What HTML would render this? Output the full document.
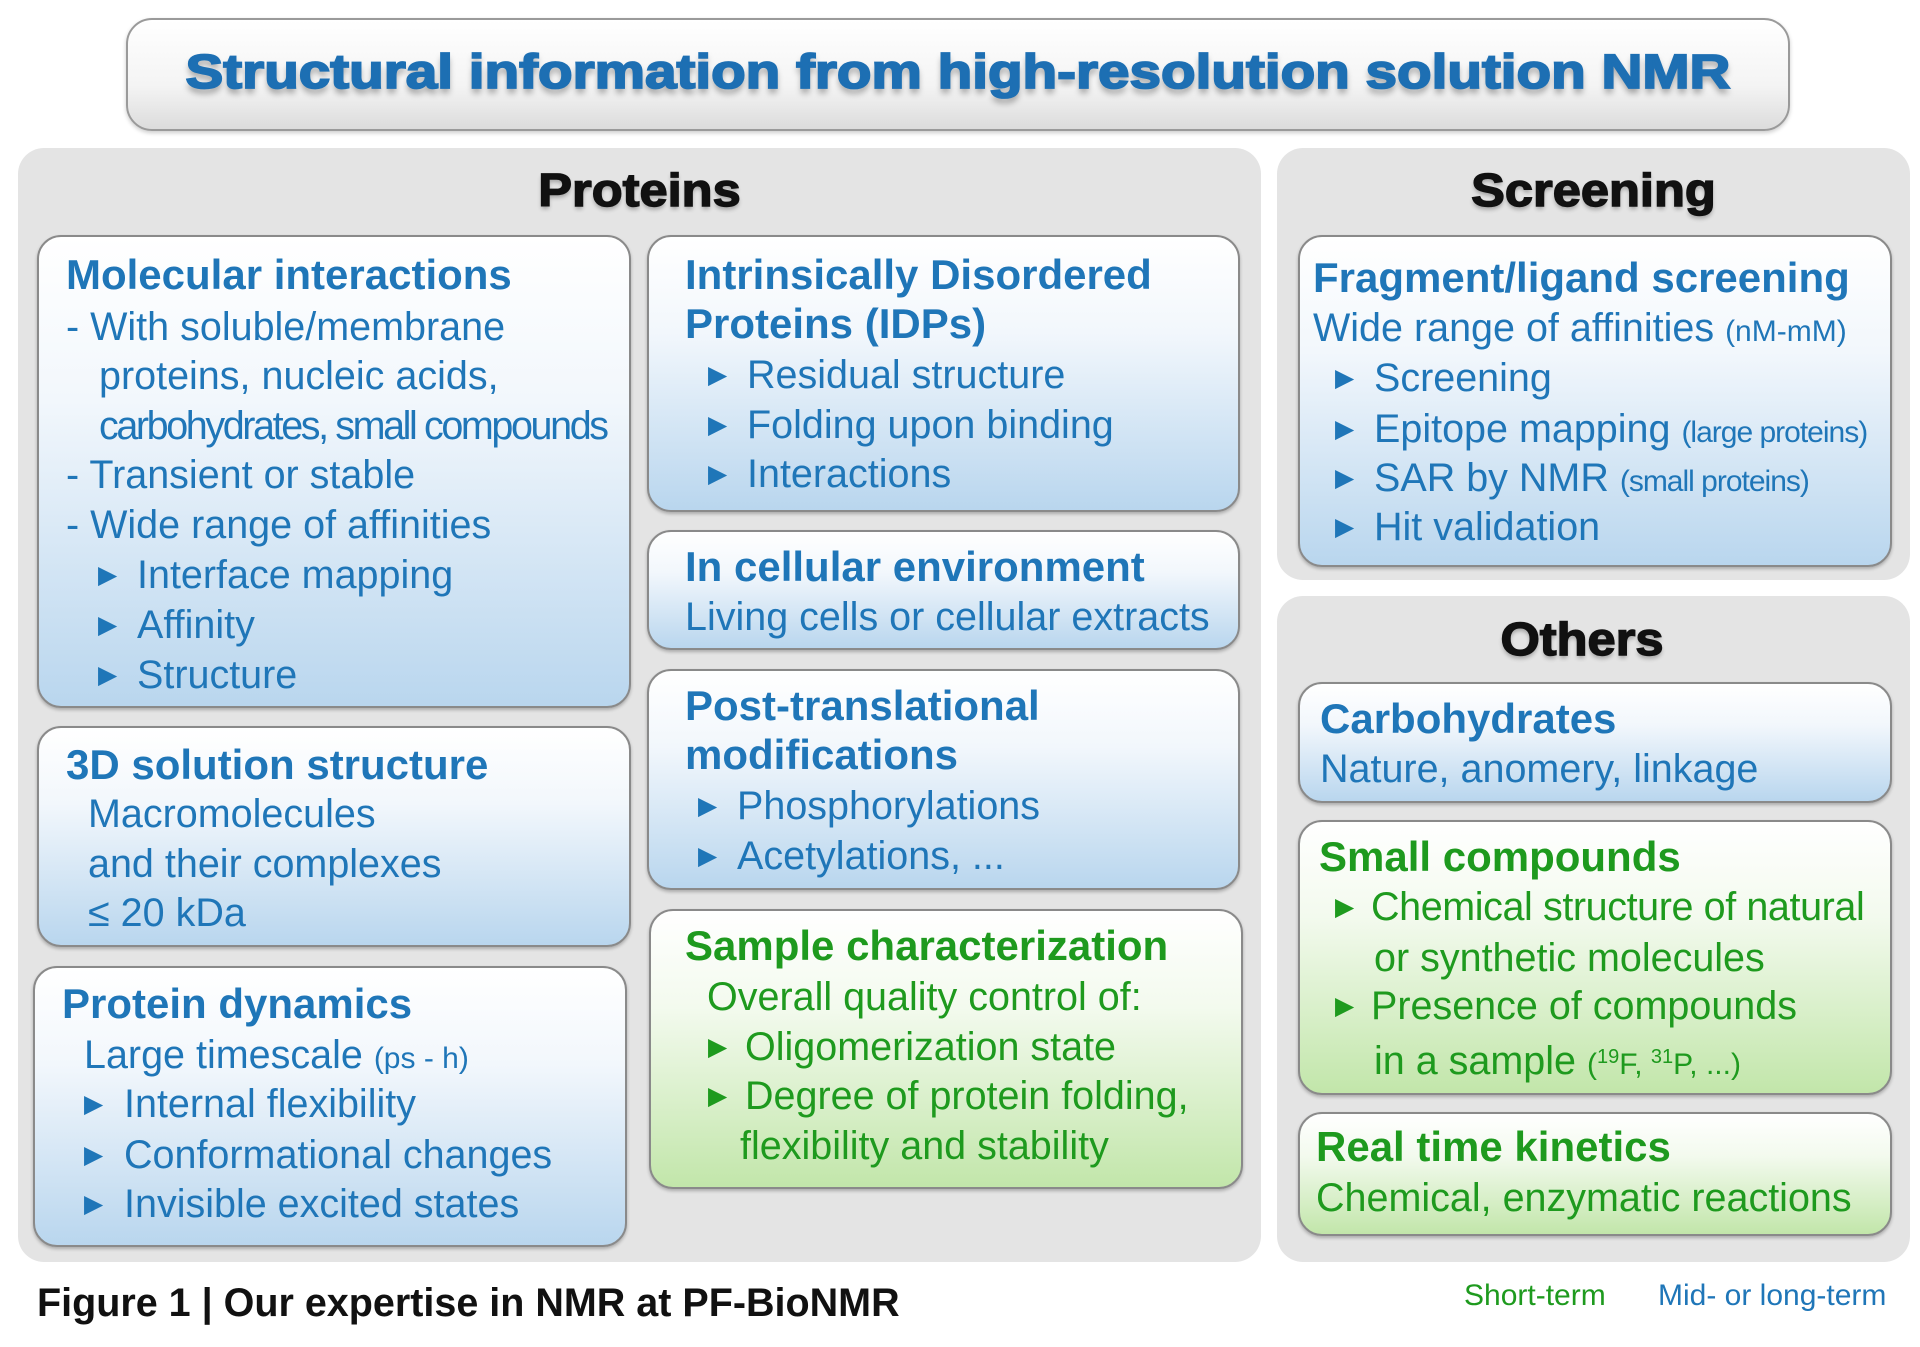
<!DOCTYPE html>
<html><head><meta charset="utf-8"><style>
*{margin:0;padding:0;box-sizing:border-box}
body{width:1920px;height:1347px;background:#fff;position:relative;overflow:hidden;font-family:"Liberation Sans",Arial,sans-serif}
.panel{position:absolute;background:#e4e4e4;border-radius:26px}
.box{position:absolute;border:2px solid #8a8a8a;border-radius:24px;box-shadow:0 2px 3px rgba(0,0,0,.25)}
.b{background:linear-gradient(#fff 0%,#f2f7fc 35%,#b9d6ee 100%)}
.g{background:linear-gradient(#fff 0%,#f3faee 35%,#c2e6aa 100%)}
.l{position:absolute;height:50px;line-height:50px;font-size:39.5px;white-space:nowrap;color:#1f76b8}
.gt{color:#1e9a1e}
.t{font-weight:bold;font-size:42px}
.tr{display:inline-block;font-size:25px;vertical-align:top;font-family:"DejaVu Sans",sans-serif}
.s{font-size:30px}
.h{position:absolute;font-weight:bold;font-size:46px;color:#111;-webkit-text-stroke:1.4px #111;text-align:center;line-height:50px;text-shadow:0 3px 4px rgba(0,0,0,.3);transform:scaleX(1.1)}
sup{font-size:20px;vertical-align:11px}
</style></head><body>
<div style="position:absolute;left:126px;top:18px;width:1664px;height:113px;border:2px solid #9a9a9a;border-radius:26px;background:linear-gradient(#fff,#f4f4f4 60%,#dcdcdc);box-shadow:0 2px 4px rgba(0,0,0,.2)"></div>
<div style="position:absolute;left:126px;top:45px;width:1664px;text-align:center;font-weight:bold;font-size:48px;line-height:56px;color:#1d6fb3;-webkit-text-stroke:1.8px #1d6fb3;transform:scaleX(1.18);text-shadow:0 5px 6px rgba(0,0,0,.35);white-space:nowrap">Structural information from high-resolution solution NMR</div>

<div class="panel" style="left:18px;top:148px;width:1243px;height:1114px"></div>
<div class="panel" style="left:1277px;top:148px;width:633px;height:432px"></div>
<div class="panel" style="left:1277px;top:596px;width:633px;height:666px"></div>
<div class="h" style="left:18px;top:165px;width:1243px">Proteins</div>
<div class="h" style="left:1277px;top:165px;width:633px">Screening</div>
<div class="h" style="left:1277px;top:614px;width:610px">Others</div>

<div class="box b" style="left:37px;top:235px;width:594px;height:473px"></div>
<div class="box b" style="left:37px;top:726px;width:594px;height:221px"></div>
<div class="box b" style="left:33px;top:966px;width:594px;height:281px"></div>
<div class="box b" style="left:647px;top:235px;width:593px;height:277px"></div>
<div class="box b" style="left:647px;top:530px;width:593px;height:120px"></div>
<div class="box b" style="left:647px;top:669px;width:593px;height:221px"></div>
<div class="box g" style="left:649px;top:909px;width:594px;height:280px"></div>
<div class="box b" style="left:1298px;top:235px;width:594px;height:332px"></div>
<div class="box b" style="left:1298px;top:682px;width:594px;height:121px"></div>
<div class="box g" style="left:1298px;top:820px;width:594px;height:275px"></div>
<div class="box g" style="left:1298px;top:1112px;width:594px;height:124px"></div>

<!-- Molecular interactions -->
<div class="l t" style="left:66px;top:250px">Molecular interactions</div>
<div class="l" style="left:66px;top:302px">- With soluble/membrane</div>
<div class="l" style="left:99px;top:351px">proteins, nucleic acids,</div>
<div class="l" style="left:99px;top:401px;letter-spacing:-2.4px">carbohydrates, small compounds</div>
<div class="l" style="left:66px;top:450px">- Transient or stable</div>
<div class="l" style="left:66px;top:500px">- Wide range of affinities</div>
<div class="l" style="left:98px;top:550px"><span class="tr" style="width:39px">▶</span>Interface mapping</div>
<div class="l" style="left:98px;top:600px"><span class="tr" style="width:39px">▶</span>Affinity</div>
<div class="l" style="left:98px;top:650px"><span class="tr" style="width:39px">▶</span>Structure</div>

<!-- 3D -->
<div class="l t" style="left:66px;top:740px">3D solution structure</div>
<div class="l" style="left:88px;top:789px">Macromolecules</div>
<div class="l" style="left:88px;top:839px">and their complexes</div>
<div class="l" style="left:88px;top:888px">≤ 20 kDa</div>

<!-- Dynamics -->
<div class="l t" style="left:62px;top:979px">Protein dynamics</div>
<div class="l" style="left:84px;top:1030px">Large timescale <span class="s">(ps - h)</span></div>
<div class="l" style="left:84px;top:1079px"><span class="tr" style="width:40px">▶</span>Internal flexibility</div>
<div class="l" style="left:84px;top:1130px"><span class="tr" style="width:40px">▶</span>Conformational changes</div>
<div class="l" style="left:84px;top:1179px"><span class="tr" style="width:40px">▶</span>Invisible excited states</div>

<!-- IDPs -->
<div class="l t" style="left:685px;top:250px">Intrinsically Disordered</div>
<div class="l t" style="left:685px;top:299px">Proteins (IDPs)</div>
<div class="l" style="left:708px;top:350px"><span class="tr" style="width:39px">▶</span>Residual structure</div>
<div class="l" style="left:708px;top:400px"><span class="tr" style="width:39px">▶</span>Folding upon binding</div>
<div class="l" style="left:708px;top:449px"><span class="tr" style="width:39px">▶</span>Interactions</div>

<!-- Cellular -->
<div class="l t" style="left:685px;top:542px">In cellular environment</div>
<div class="l" style="left:685px;top:592px">Living cells or cellular extracts</div>

<!-- PTM -->
<div class="l t" style="left:685px;top:681px">Post-translational</div>
<div class="l t" style="left:685px;top:730px">modifications</div>
<div class="l" style="left:698px;top:781px"><span class="tr" style="width:39px">▶</span>Phosphorylations</div>
<div class="l" style="left:698px;top:831px"><span class="tr" style="width:39px">▶</span>Acetylations, ...</div>

<!-- Sample -->
<div class="l t gt" style="left:685px;top:921px">Sample characterization</div>
<div class="l gt" style="left:707px;top:972px">Overall quality control of:</div>
<div class="l gt" style="left:708px;top:1022px"><span class="tr" style="width:37px">▶</span>Oligomerization state</div>
<div class="l gt" style="left:708px;top:1071px"><span class="tr" style="width:37px">▶</span>Degree of protein folding,</div>
<div class="l gt" style="left:740px;top:1121px">flexibility and stability</div>

<!-- Fragment -->
<div class="l t" style="left:1313px;top:253px">Fragment/ligand screening</div>
<div class="l" style="left:1313px;top:303px">Wide range of affinities <span class="s">(nM-mM)</span></div>
<div class="l" style="left:1335px;top:353px"><span class="tr" style="width:39px">▶</span>Screening</div>
<div class="l" style="left:1335px;top:404px"><span class="tr" style="width:39px">▶</span>Epitope mapping <span class="s" style="letter-spacing:-1px">(large proteins)</span></div>
<div class="l" style="left:1335px;top:453px"><span class="tr" style="width:39px">▶</span>SAR by NMR <span class="s" style="letter-spacing:-1px">(small proteins)</span></div>
<div class="l" style="left:1335px;top:502px"><span class="tr" style="width:39px">▶</span>Hit validation</div>

<!-- Carbohydrates -->
<div class="l t" style="left:1320px;top:694px">Carbohydrates</div>
<div class="l" style="left:1320px;top:744px">Nature, anomery, linkage</div>

<!-- Small compounds -->
<div class="l t gt" style="left:1319px;top:832px">Small compounds</div>
<div class="l gt" style="left:1335px;top:882px;letter-spacing:-0.4px"><span class="tr" style="width:36px">▶</span>Chemical structure of natural</div>
<div class="l gt" style="left:1374px;top:933px">or synthetic molecules</div>
<div class="l gt" style="left:1335px;top:981px"><span class="tr" style="width:36px">▶</span>Presence of compounds</div>
<div class="l gt" style="left:1374px;top:1032px">in a sample <span class="s">(<sup>19</sup>F, <sup>31</sup>P, ...)</span></div>

<!-- Real time -->
<div class="l t gt" style="left:1316px;top:1122px">Real time kinetics</div>
<div class="l gt" style="left:1316px;top:1173px">Chemical, enzymatic reactions</div>

<div style="position:absolute;left:37px;top:1281px;font-weight:bold;font-size:39.5px;line-height:44px;color:#111;white-space:nowrap">Figure 1 | Our expertise in NMR at PF-BioNMR</div>
<div style="position:absolute;left:1464px;top:1279px;font-size:30px;line-height:34px;color:#1e9a1e">Short-term</div>
<div style="position:absolute;left:1658px;top:1279px;font-size:30px;line-height:34px;color:#1f76b8">Mid- or long-term</div>
</body></html>
